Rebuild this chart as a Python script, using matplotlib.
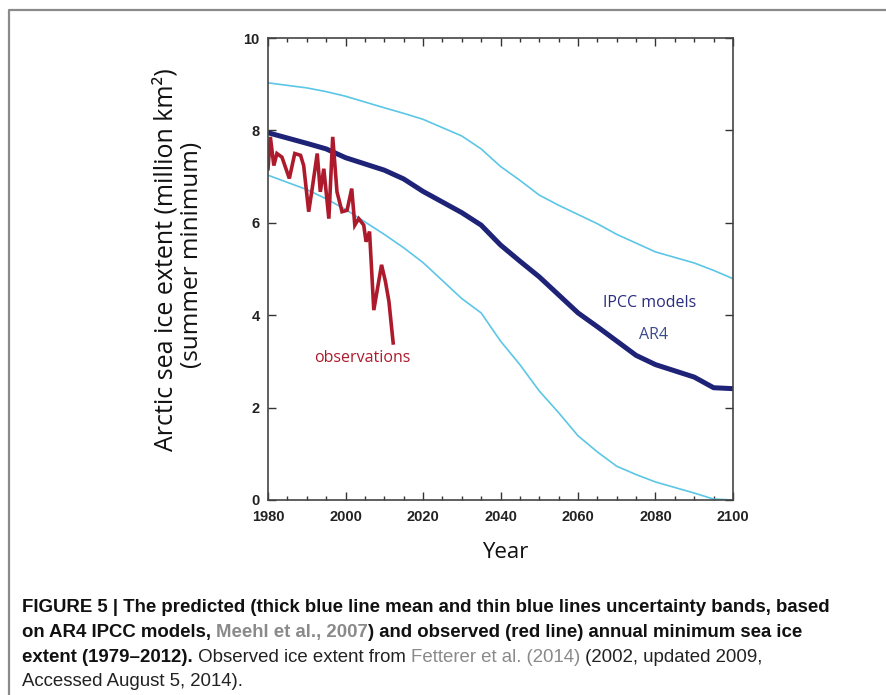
import matplotlib
matplotlib.use("Agg")
import matplotlib.pyplot as plt
from matplotlib.lines import Line2D
from matplotlib.ticker import MultipleLocator

# AR4 IPCC model projections
model_years = [1980, 1990, 1995, 2000, 2010, 2015, 2020, 2030, 2035, 2040, 2045,
               2050, 2055, 2060, 2065, 2070, 2075, 2080, 2090, 2095, 2100]
model_mean = [7.95, 7.72, 7.60, 7.41, 7.14, 6.95, 6.68, 6.22, 5.95, 5.52, 5.17,
              4.83, 4.44, 4.05, 3.75, 3.44, 3.13, 2.93, 2.66, 2.43, 2.41]
model_upper = [9.03, 8.92, 8.84, 8.74, 8.49, 8.37, 8.24, 7.88, 7.60, 7.22, 6.92,
               6.60, 6.38, 6.18, 5.98, 5.75, 5.56, 5.37, 5.13, 4.97, 4.79]
model_lower = [7.03, 6.72, 6.52, 6.29, 5.75, 5.46, 5.14, 4.36, 4.05, 3.44, 2.93,
               2.36, 1.89, 1.39, 1.04, 0.73, 0.55, 0.39, 0.15, 0.02, 0.0]

# observed September minimum extent (as drawn)
obs_years = [1980.0, 1980.6, 1981.5, 1982.3, 1983.6, 1985.5, 1986.9, 1988.4, 1989.2,
             1990.5, 1991.4, 1992.7, 1993.5, 1994.4, 1995.7, 1996.7, 1997.8, 1999.1,
             2000.4, 2001.6, 2002.4, 2003.4, 2004.7, 2005.3, 2006.2, 2007.3, 2009.3,
             2010.3, 2011.2, 2012.3]
obs_extent = [7.17, 7.86, 7.24, 7.50, 7.42, 6.96, 7.50, 7.46, 7.24,
              6.24, 6.74, 7.50, 6.67, 7.17, 6.09, 7.86, 6.67, 6.24,
              6.27, 6.74, 5.95, 6.09, 5.95, 5.59, 5.81, 4.11, 5.09,
              4.73, 4.30, 3.40]

CYAN = "#5cc6e6"
NAVY = "#1e2378"
RED = "#ad1a2c"
LABEL_FONT = ["Open Sans", "DejaVu Sans"]

fig = plt.figure(figsize=(8.86, 6.95), dpi=100)
ax = fig.add_axes([0.3025, 0.2806, 0.5248, 0.6647])

ax.plot(model_years, model_upper, color=CYAN, lw=1.2)
ax.plot(model_years, model_lower, color=CYAN, lw=1.2)
ax.plot(model_years, model_mean, color=NAVY, lw=3.6, solid_capstyle="butt")
ax.plot(obs_years, obs_extent, color=RED, lw=2.6, solid_joinstyle="miter")

ax.set_xlim(1980, 2100)
ax.set_ylim(0, 10)
ax.xaxis.set_major_locator(MultipleLocator(20))
ax.xaxis.set_minor_locator(MultipleLocator(5))
ax.yaxis.set_major_locator(MultipleLocator(2))
ax.tick_params(which="both", direction="in", top=True, right=True, width=1.0,
               color="#333333")
ax.tick_params(which="major", length=6, pad=6)
ax.tick_params(axis="x", which="major", pad=7)
ax.tick_params(which="minor", length=3)
ax.tick_params(axis="y", which="minor", left=False, right=False)
for lab in ax.get_xticklabels() + ax.get_yticklabels():
    lab.set_family("Liberation Sans")
    lab.set_fontweight("bold")
    lab.set_fontsize(10.5)
    lab.set_color("#222222")
for sp in ax.spines.values():
    sp.set_color("#444444")
    sp.set_linewidth(1.2)

ax.text(2078.6, 4.26, "IPCC models", color="#2a2d80", fontsize=11.5, family=LABEL_FONT,
        ha="center", va="center")
ax.text(2079.6, 3.57, "AR4", color="#3b4a8c", fontsize=11.5, family=LABEL_FONT,
        ha="center", va="center")
ax.text(2004.3, 3.08, "observations", color=RED, fontsize=11.5, family=LABEL_FONT,
        ha="center", va="center")

fig.text(166 / 886, 1 - 260 / 695, "Arctic sea ice extent (million km\u00b2)", rotation=90,
         ha="center", va="center", fontsize=18, family=LABEL_FONT, color="#111111")
fig.text(192 / 886, 1 - 255 / 695, "(summer minimum)", rotation=90,
         ha="center", va="center", fontsize=17.5, family=LABEL_FONT, color="#111111")
fig.text(505 / 886, 1 - 553 / 695, "Year", ha="center", va="center", fontsize=16,
         family=LABEL_FONT, color="#111111")

# outer frame
fig.add_artist(Line2D([9 / 886, 9 / 886, 1.0], [0.0, 1 - 10 / 695, 1 - 10 / 695],
                      transform=fig.transFigure, color="#8a8a8a", lw=1.6))

# caption built from pieces of different weight/colour
cap_font = "Liberation Sans"
caption = [
    [("FIGURE 5 | The predicted (thick blue line mean and thin blue lines uncertainty bands, based", "bold", "#111111")],
    [("on AR4 IPCC models, ", "bold", "#111111"), ("Meehl et al., 2007", "bold", "#8a8a8a"),
     (") and observed (red line) annual minimum sea ice", "bold", "#111111")],
    [("extent (1979\u20132012).", "bold", "#111111"), (" Observed ice extent from ", "normal", "#222222"),
     ("Fetterer et al. (2014)", "normal", "#8a8a8a"), (" (2002, updated 2009,", "normal", "#222222")],
    [("Accessed August 5, 2014).", "normal", "#222222")],
]
baselines = [612, 637, 662, 686]
cap_left, cap_right = 22, 833
renderer = fig.canvas.get_renderer()

# pick the font size that makes the first line as wide as in the original
probe = fig.text(0, 0, caption[0][0][0], fontsize=10, family=cap_font, fontweight="bold")
cap_size = 10 * (cap_right - cap_left) / probe.get_window_extent(renderer=renderer).width
probe.remove()

for line, base in zip(caption, baselines):
    x = cap_left
    for txt, weight, col in line:
        t = fig.text(x / 886, 1 - base / 695, txt, fontsize=cap_size, family=cap_font,
                     fontweight=weight, color=col, ha="left", va="baseline")
        x += t.get_window_extent(renderer=renderer).width

fig.savefig("out.png", dpi=100)
